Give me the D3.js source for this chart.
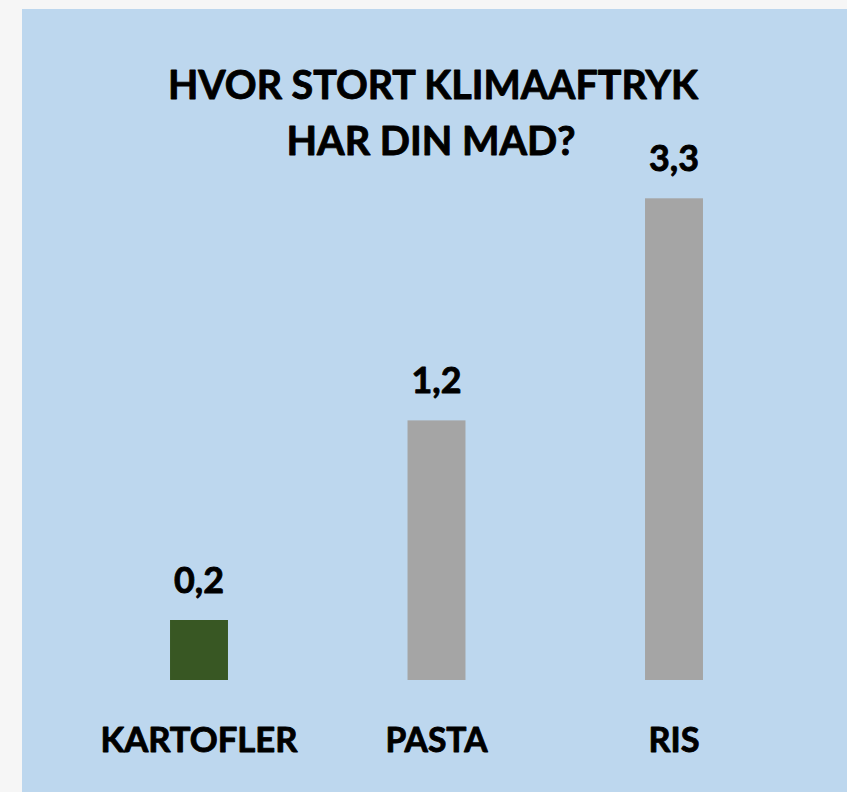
<!DOCTYPE html>
<html>
<head>
<meta charset="utf-8">
<script src="https://cdn.jsdelivr.net/npm/d3@7"></script>
<style>
  html, body { margin: 0; padding: 0; background: #f6f6f6; }
  svg { display: block; }
  text { font-family: Lato, "Liberation Sans", Arial, sans-serif; font-weight: 700; fill: #000; stroke: #000; stroke-width: 0.9; stroke-linejoin: round; }
</style>
</head>
<body>
<script>
const categories = ["KARTOFLER", "PASTA", "RIS"];
const values = [0.2, 1.2, 3.3];
const valueLabels = ["0,2", "1,2", "3,3"];
const titleLines = ["HVOR STORT KLIMAAFTRYK", "HAR DIN MAD?"];
const barColors = ["#385723", "#a5a5a5", "#a5a5a5"];

const W = 847, H = 792;
const svg = d3.select("body").append("svg").attr("width", W).attr("height", H);

// panel
svg.append("rect").attr("x", 22).attr("y", 9).attr("width", W - 22).attr("height", H - 9)
  .attr("fill", "#bdd7ee");

const x = d3.scaleBand().domain(categories)
  .range([80.25, 792.75]).paddingInner(0.756).paddingOuter(0.378);
const y = d3.scalePow().exponent(0.5).domain([0.0637, 3.3]).range([680, 198.3]);

const data = categories.map((c, i) => ({ c, v: values[i], label: valueLabels[i], color: barColors[i] }));

svg.selectAll("rect.bar").data(data).enter().append("rect")
  .attr("class", "bar")
  .attr("x", d => x(d.c))
  .attr("width", x.bandwidth())
  .attr("y", d => y(d.v))
  .attr("height", d => y.range()[0] - y(d.v))
  .attr("fill", d => d.color);

svg.selectAll("text.val").data(data).enter().append("text")
  .attr("class", "val")
  .attr("x", d => x(d.c) + x.bandwidth() / 2)
  .attr("y", d => y(d.v) - 27)
  .attr("text-anchor", "middle")
  .attr("font-size", 37)
  .attr("textLength", 50)
  .attr("lengthAdjust", "spacingAndGlyphs")
  .text(d => d.label);

// category axis labels
const catWidths = { "KARTOFLER": 197, "PASTA": 102, "RIS": 51 };
svg.selectAll("text.cat").data(categories).enter().append("text")
  .attr("class", "cat")
  .attr("x", d => x(d) + x.bandwidth() / 2)
  .attr("y", 751.5)
  .attr("text-anchor", "middle")
  .attr("font-size", 35)
  .attr("textLength", d => catWidths[d])
  .attr("lengthAdjust", "spacingAndGlyphs")
  .text(d => d);

// title
const titleWidths = [530, 289];
const titleX = [433, 431];
const titleY = [98.5, 155];
titleLines.forEach((t, i) => {
  svg.append("text")
    .attr("x", titleX[i])
    .attr("y", titleY[i])
    .attr("text-anchor", "middle")
    .attr("font-size", 40)
    .attr("textLength", titleWidths[i])
    .attr("lengthAdjust", "spacingAndGlyphs")
    .text(t);
});
</script>
</body>
</html>
